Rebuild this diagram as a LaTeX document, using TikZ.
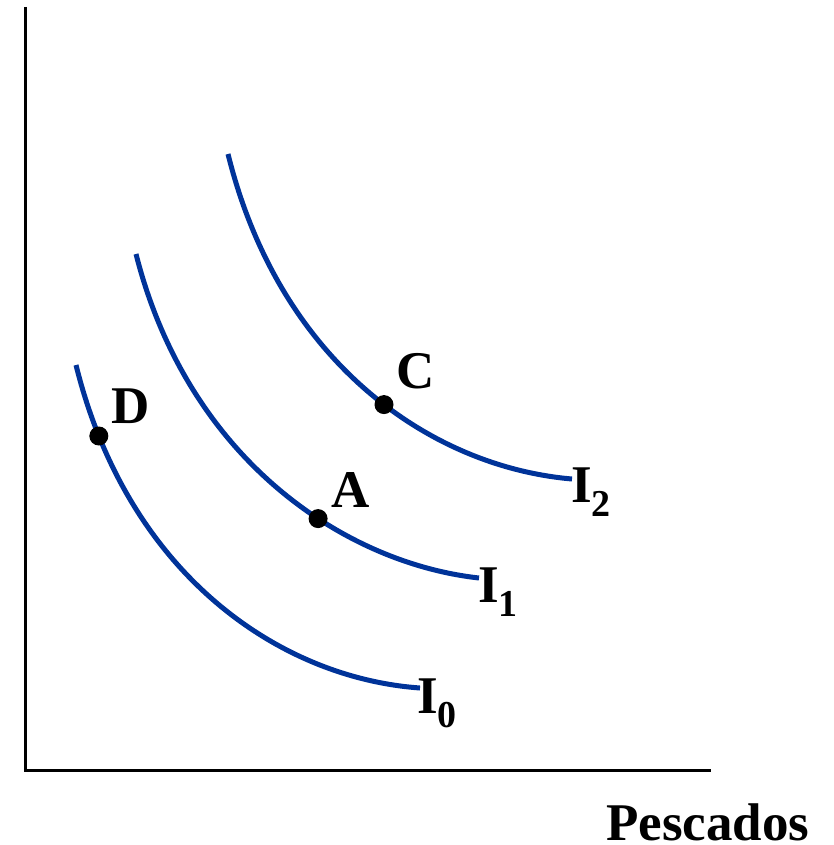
\documentclass[tikz,border=0pt]{standalone}
\usepackage{fontspec}
\setmainfont{Liberation Serif}
\definecolor{curveblue}{RGB}{0,51,153}
\begin{document}
\begin{tikzpicture}[x=1pt,y=-1pt,
  axis/.style={line width=3pt,black},
  icurve/.style={line width=5pt,curveblue},
  dot/.style={circle,fill=black,inner sep=0pt,minimum size=19pt},
  lbl/.style={anchor=base west,inner sep=0pt,font=\fontsize{53}{53}\selectfont\bfseries},
  ilbl/.style={anchor=base west,inner sep=0pt,font=\fontsize{53}{53}\selectfont\bfseries}]
\useasboundingbox (0,0) rectangle (833,845);
% axes
\coordinate (top) at (25.5,7);
\coordinate (origin) at (25.5,770);
\coordinate (xend) at (711,770);
\draw[axis] (top) -- (origin) -- (xend);
% curves
\draw[icurve] (76,365) .. controls (128,575) and (280,678) .. (420,688)
  coordinate[pos=0.12] (D);
\draw[icurve] (136,254) .. controls (188,459) and (344,563) .. (479,578)
  coordinate[pos=0.608] (A);
\draw[icurve] (228,154) .. controls (280,364) and (432,467) .. (572,479)
  coordinate[pos=0.545] (C);
\node[dot] (dD) at (D) {};
\node[dot] (dA) at (A) {};
\node[dot] (dC) at (C) {};
\node[lbl] (tD) at (111,423) {D};
\node[lbl] (tA) at (331,507) {A};
\node[lbl] (tC) at (396,388) {C};
\newcommand{\sub}[1]{\raisebox{-14pt}{\fontsize{38}{38}\selectfont #1}}
\node[ilbl] (i0) at (417,713) {I\sub{0}};
\node[ilbl] (i1) at (478,602) {I\sub{1}};
\node[ilbl] (i2) at (571,502) {I\sub{2}};
\node[lbl] (px) at (606,840) {Pescados};
\end{tikzpicture}
\end{document}
